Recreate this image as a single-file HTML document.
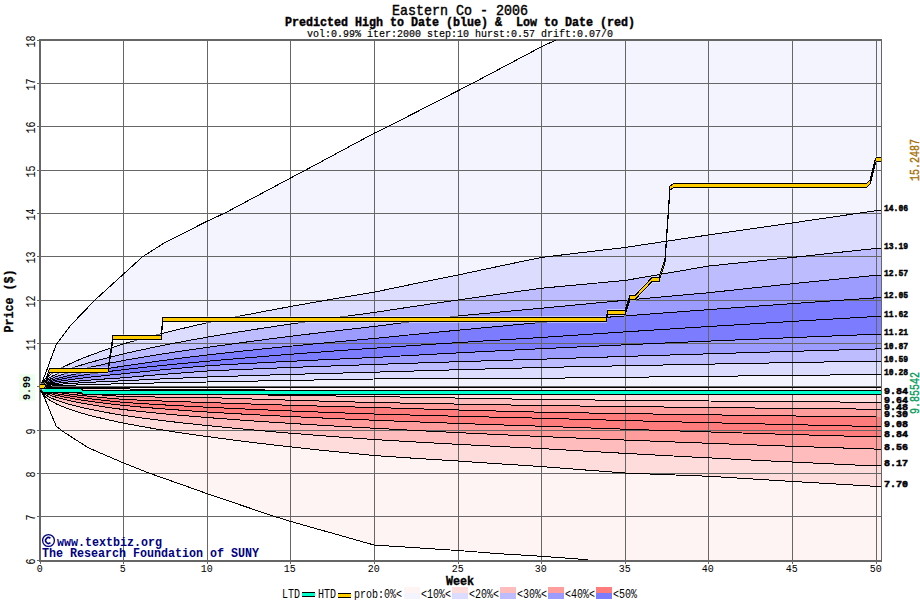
<!DOCTYPE html>
<html><head><meta charset="utf-8"><style>
html,body{margin:0;padding:0;background:#fff;width:920px;height:600px;overflow:hidden}
svg{display:block}
text{font-family:"Liberation Mono",monospace}
</style></head><body>
<svg width="920" height="600" viewBox="0 0 920 600">
<rect width="920" height="600" fill="#fff"/>
<defs><clipPath id="pa"><rect x="40" y="40" width="841" height="520"/></clipPath></defs>
<g clip-path="url(#pa)">
<polygon points="40.00,387.00 881.00,387.00 881.00,374.53 876.00,374.53 859.28,374.71 842.56,374.88 825.84,375.06 809.12,375.23 792.40,375.41 775.68,375.59 758.96,375.77 742.24,375.96 725.52,376.14 708.80,376.33 692.08,376.52 675.36,376.71 658.64,376.90 641.92,377.09 625.20,377.29 608.48,377.48 591.76,377.68 575.04,377.88 558.32,378.09 541.60,378.29 524.88,378.35 508.16,378.41 491.44,378.47 474.72,378.54 458.00,378.61 441.28,378.68 424.56,378.75 407.84,378.83 391.12,378.91 374.40,379.00 357.68,379.27 340.96,379.54 324.24,379.83 307.52,380.11 290.80,380.41 274.08,380.71 257.36,381.02 240.64,381.33 223.92,381.66 207.20,382.00 190.48,382.30 173.76,382.62 157.04,382.95 140.32,383.31 123.60,383.69 106.88,384.10 90.16,384.56 81.80,384.81 73.44,385.09 65.08,385.40 56.72,385.75 52.54,385.96 48.36,386.19 45.02,386.42 43.34,386.56 41.67,386.74 40.84,386.86 40.00,387.10" fill="#f4f4ff"/>
<polygon points="40.00,387.00 881.00,387.00 881.00,393.60 876.00,393.60 859.28,393.52 842.56,393.44 825.84,393.37 809.12,393.29 792.40,393.20 775.68,393.12 758.96,393.04 742.24,392.96 725.52,392.88 708.80,392.79 692.08,392.71 675.36,392.62 658.64,392.53 641.92,392.44 625.20,392.35 608.48,392.26 591.76,392.17 575.04,392.08 558.32,391.98 541.60,391.89 524.88,391.79 508.16,391.69 491.44,391.59 474.72,391.49 458.00,391.39 441.28,391.28 424.56,391.17 407.84,391.07 391.12,390.95 374.40,390.84 357.68,390.72 340.96,390.60 324.24,390.48 307.52,390.35 290.80,390.22 274.08,390.09 257.36,389.95 240.64,389.81 223.92,389.66 207.20,389.50 190.48,389.41 173.76,389.32 157.04,389.21 140.32,389.09 123.60,388.96 106.88,388.80 90.16,388.61 81.80,388.50 73.44,388.37 65.08,388.22 56.72,388.04 52.54,387.93 48.36,387.79 45.02,387.64 43.34,387.55 41.67,387.43 40.84,387.33 40.00,387.10" fill="#fff4f4"/>
<polygon points="40.00,387.10 40.84,386.86 41.67,386.74 43.34,386.56 45.02,386.42 48.36,386.19 52.54,385.96 56.72,385.75 65.08,385.40 73.44,385.09 81.80,384.81 90.16,384.56 106.88,384.10 123.60,383.69 140.32,383.31 157.04,382.95 173.76,382.62 190.48,382.30 207.20,382.00 223.92,381.66 240.64,381.33 257.36,381.02 274.08,380.71 290.80,380.41 307.52,380.11 324.24,379.83 340.96,379.54 357.68,379.27 374.40,379.00 391.12,378.91 407.84,378.83 424.56,378.75 441.28,378.68 458.00,378.61 474.72,378.54 491.44,378.47 508.16,378.41 524.88,378.35 541.60,378.29 558.32,378.09 575.04,377.88 591.76,377.68 608.48,377.48 625.20,377.29 641.92,377.09 658.64,376.90 675.36,376.71 692.08,376.52 708.80,376.33 725.52,376.14 742.24,375.96 758.96,375.77 775.68,375.59 792.40,375.41 809.12,375.23 825.84,375.06 842.56,374.88 859.28,374.71 876.00,374.53 881.00,374.53 881.00,361.10 876.00,361.10 859.28,361.39 842.56,361.68 825.84,361.98 809.12,362.28 792.40,362.58 775.68,362.88 758.96,363.19 742.24,363.50 725.52,363.81 708.80,364.12 692.08,364.44 675.36,364.76 658.64,365.09 641.92,365.42 625.20,365.75 608.48,366.09 591.76,366.43 575.04,366.78 558.32,367.13 541.60,367.49 524.88,367.93 508.16,368.37 491.44,368.83 474.72,369.29 458.00,369.75 441.28,370.22 424.56,370.70 407.84,371.19 391.12,371.68 374.40,372.19 357.68,372.61 340.96,373.05 324.24,373.49 307.52,373.95 290.80,374.41 274.08,374.90 257.36,375.39 240.64,375.91 223.92,376.44 207.20,376.99 190.48,377.68 173.76,378.39 157.04,379.14 140.32,379.93 123.60,380.77 106.88,381.49 90.16,382.31 81.80,382.76 73.44,383.26 65.08,383.82 56.72,384.48 52.54,384.87 48.36,385.32 45.02,385.76 43.34,386.03 41.67,386.38 40.84,386.61 40.00,387.10" fill="#dcdcff"/>
<polygon points="40.00,387.10 40.84,387.33 41.67,387.43 43.34,387.55 45.02,387.64 48.36,387.79 52.54,387.93 56.72,388.04 65.08,388.22 73.44,388.37 81.80,388.50 90.16,388.61 106.88,388.80 123.60,388.96 140.32,389.09 157.04,389.21 173.76,389.32 190.48,389.41 207.20,389.50 223.92,389.66 240.64,389.81 257.36,389.95 274.08,390.09 290.80,390.22 307.52,390.35 324.24,390.48 340.96,390.60 357.68,390.72 374.40,390.84 391.12,390.95 407.84,391.07 424.56,391.17 441.28,391.28 458.00,391.39 474.72,391.49 491.44,391.59 508.16,391.69 524.88,391.79 541.60,391.89 558.32,391.98 575.04,392.08 591.76,392.17 608.48,392.26 625.20,392.35 641.92,392.44 658.64,392.53 675.36,392.62 692.08,392.71 708.80,392.79 725.52,392.88 742.24,392.96 758.96,393.04 775.68,393.12 792.40,393.20 809.12,393.29 825.84,393.37 842.56,393.44 859.28,393.52 876.00,393.60 881.00,393.60 881.00,402.27 876.00,402.27 859.28,402.15 842.56,402.03 825.84,401.90 809.12,401.78 792.40,401.65 775.68,401.53 758.96,401.40 742.24,401.27 725.52,401.13 708.80,401.00 692.08,400.86 675.36,400.72 658.64,400.58 641.92,400.43 625.20,400.28 608.48,400.13 591.76,399.98 575.04,399.83 558.32,399.67 541.60,399.51 524.88,399.23 508.16,398.94 491.44,398.65 474.72,398.36 458.00,398.06 441.28,397.76 424.56,397.46 407.84,397.15 391.12,396.83 374.40,396.51 357.68,396.29 340.96,396.07 324.24,395.84 307.52,395.60 290.80,395.36 274.08,395.10 257.36,394.83 240.64,394.56 223.92,394.27 207.20,393.96 190.48,393.63 173.76,393.29 157.04,392.92 140.32,392.52 123.60,392.08 106.88,391.58 90.16,391.02 81.80,390.70 73.44,390.34 65.08,389.93 56.72,389.43 52.54,389.14 48.36,388.78 45.02,388.42 43.34,388.18 41.67,387.88 40.84,387.66 40.00,387.10" fill="#ffdcdc"/>
<polygon points="40.00,387.10 40.84,386.61 41.67,386.38 43.34,386.03 45.02,385.76 48.36,385.32 52.54,384.87 56.72,384.48 65.08,383.82 73.44,383.26 81.80,382.76 90.16,382.31 106.88,381.49 123.60,380.77 140.32,379.93 157.04,379.14 173.76,378.39 190.48,377.68 207.20,376.99 223.92,376.44 240.64,375.91 257.36,375.39 274.08,374.90 290.80,374.41 307.52,373.95 324.24,373.49 340.96,373.05 357.68,372.61 374.40,372.19 391.12,371.68 407.84,371.19 424.56,370.70 441.28,370.22 458.00,369.75 474.72,369.29 491.44,368.83 508.16,368.37 524.88,367.93 541.60,367.49 558.32,367.13 575.04,366.78 591.76,366.43 608.48,366.09 625.20,365.75 641.92,365.42 658.64,365.09 675.36,364.76 692.08,364.44 708.80,364.12 725.52,363.81 742.24,363.50 758.96,363.19 775.68,362.88 792.40,362.58 809.12,362.28 825.84,361.98 842.56,361.68 859.28,361.39 876.00,361.10 881.00,361.10 881.00,348.97 876.00,348.97 859.28,349.44 842.56,349.91 825.84,350.38 809.12,350.86 792.40,351.35 775.68,351.83 758.96,352.33 742.24,352.82 725.52,353.32 708.80,353.83 692.08,354.34 675.36,354.85 658.64,355.37 641.92,355.90 625.20,356.43 608.48,356.97 591.76,357.51 575.04,358.06 558.32,358.62 541.60,359.18 524.88,359.67 508.16,360.17 491.44,360.68 474.72,361.19 458.00,361.71 441.28,362.25 424.56,362.79 407.84,363.34 391.12,363.91 374.40,364.49 357.68,365.06 340.96,365.64 324.24,366.24 307.52,366.85 290.80,367.48 274.08,368.14 257.36,368.81 240.64,369.51 223.92,370.23 207.20,370.99 190.48,372.24 173.76,373.53 157.04,374.87 140.32,376.27 123.60,377.75 106.88,378.84 90.16,380.05 81.80,380.73 73.44,381.47 65.08,382.30 56.72,383.27 52.54,383.84 48.36,384.51 45.02,385.15 43.34,385.55 41.67,386.05 40.84,386.39 40.00,387.10" fill="#bcbcff"/>
<polygon points="40.00,387.10 40.84,387.66 41.67,387.88 43.34,388.18 45.02,388.42 48.36,388.78 52.54,389.14 56.72,389.43 65.08,389.93 73.44,390.34 81.80,390.70 90.16,391.02 106.88,391.58 123.60,392.08 140.32,392.52 157.04,392.92 173.76,393.29 190.48,393.63 207.20,393.96 223.92,394.27 240.64,394.56 257.36,394.83 274.08,395.10 290.80,395.36 307.52,395.60 324.24,395.84 340.96,396.07 357.68,396.29 374.40,396.51 391.12,396.83 407.84,397.15 424.56,397.46 441.28,397.76 458.00,398.06 474.72,398.36 491.44,398.65 508.16,398.94 524.88,399.23 541.60,399.51 558.32,399.67 575.04,399.83 591.76,399.98 608.48,400.13 625.20,400.28 641.92,400.43 658.64,400.58 675.36,400.72 692.08,400.86 708.80,401.00 725.52,401.13 742.24,401.27 758.96,401.40 775.68,401.53 792.40,401.65 809.12,401.78 825.84,401.90 842.56,402.03 859.28,402.15 876.00,402.27 881.00,402.27 881.00,409.20 876.00,409.20 859.28,409.04 842.56,408.88 825.84,408.72 809.12,408.56 792.40,408.39 775.68,408.22 758.96,408.05 742.24,407.87 725.52,407.70 708.80,407.52 692.08,407.33 675.36,407.14 658.64,406.95 641.92,406.76 625.20,406.56 608.48,406.36 591.76,406.15 575.04,405.94 558.32,405.73 541.60,405.51 524.88,405.24 508.16,404.96 491.44,404.68 474.72,404.39 458.00,404.09 441.28,403.79 424.56,403.48 407.84,403.16 391.12,402.84 374.40,402.51 357.68,402.07 340.96,401.62 324.24,401.15 307.52,400.68 290.80,400.19 274.08,399.69 257.36,399.17 240.64,398.64 223.92,398.08 207.20,397.51 190.48,397.38 173.76,397.23 157.04,397.04 140.32,396.80 123.60,396.51 106.88,395.39 90.16,394.13 81.80,393.45 73.44,392.71 65.08,391.89 56.72,390.95 52.54,390.41 48.36,389.78 45.02,389.16 43.34,388.78 41.67,388.29 40.84,387.94 40.00,387.10" fill="#ffbcbc"/>
<polygon points="40.00,387.10 40.84,386.39 41.67,386.05 43.34,385.55 45.02,385.15 48.36,384.51 52.54,383.84 56.72,383.27 65.08,382.30 73.44,381.47 81.80,380.73 90.16,380.05 106.88,378.84 123.60,377.75 140.32,376.27 157.04,374.87 173.76,373.53 190.48,372.24 207.20,370.99 223.92,370.23 240.64,369.51 257.36,368.81 274.08,368.14 290.80,367.48 307.52,366.85 324.24,366.24 340.96,365.64 357.68,365.06 374.40,364.49 391.12,363.91 407.84,363.34 424.56,362.79 441.28,362.25 458.00,361.71 474.72,361.19 491.44,360.68 508.16,360.17 524.88,359.67 541.60,359.18 558.32,358.62 575.04,358.06 591.76,357.51 608.48,356.97 625.20,356.43 641.92,355.90 658.64,355.37 675.36,354.85 692.08,354.34 708.80,353.83 725.52,353.32 742.24,352.82 758.96,352.33 775.68,351.83 792.40,351.35 809.12,350.86 825.84,350.38 842.56,349.91 859.28,349.44 876.00,348.97 881.00,348.97 881.00,334.23 876.00,334.23 859.28,334.90 842.56,335.57 825.84,336.24 809.12,336.92 792.40,337.61 775.68,338.30 758.96,339.00 742.24,339.70 725.52,340.41 708.80,341.12 692.08,341.84 675.36,342.57 658.64,343.31 641.92,344.05 625.20,344.80 608.48,345.56 591.76,346.32 575.04,347.10 558.32,347.88 541.60,348.67 524.88,349.50 508.16,350.33 491.44,351.18 474.72,352.04 458.00,352.91 441.28,353.80 424.56,354.69 407.84,355.61 391.12,356.53 374.40,357.48 357.68,358.20 340.96,358.94 324.24,359.70 307.52,360.48 290.80,361.29 274.08,362.12 257.36,362.99 240.64,363.88 223.92,364.81 207.20,365.79 190.48,367.24 173.76,368.75 157.04,370.32 140.32,371.98 123.60,373.73 106.88,375.34 90.16,377.12 81.80,378.10 73.44,379.18 65.08,380.37 56.72,381.76 52.54,382.56 48.36,383.50 45.02,384.41 43.34,384.96 41.67,385.66 40.84,386.13 40.00,387.10" fill="#9c9cff"/>
<polygon points="40.00,387.10 40.84,387.94 41.67,388.29 43.34,388.78 45.02,389.16 48.36,389.78 52.54,390.41 56.72,390.95 65.08,391.89 73.44,392.71 81.80,393.45 90.16,394.13 106.88,395.39 123.60,396.51 140.32,396.80 157.04,397.04 173.76,397.23 190.48,397.38 207.20,397.51 223.92,398.08 240.64,398.64 257.36,399.17 274.08,399.69 290.80,400.19 307.52,400.68 324.24,401.15 340.96,401.62 357.68,402.07 374.40,402.51 391.12,402.84 407.84,403.16 424.56,403.48 441.28,403.79 458.00,404.09 474.72,404.39 491.44,404.68 508.16,404.96 524.88,405.24 541.60,405.51 558.32,405.73 575.04,405.94 591.76,406.15 608.48,406.36 625.20,406.56 641.92,406.76 658.64,406.95 675.36,407.14 692.08,407.33 708.80,407.52 725.52,407.70 742.24,407.87 758.96,408.05 775.68,408.22 792.40,408.39 809.12,408.56 825.84,408.72 842.56,408.88 859.28,409.04 876.00,409.20 881.00,409.20 881.00,417.00 876.00,417.00 859.28,416.80 842.56,416.59 825.84,416.38 809.12,416.17 792.40,415.96 775.68,415.74 758.96,415.52 742.24,415.29 725.52,415.06 708.80,414.83 692.08,414.59 675.36,414.34 658.64,414.10 641.92,413.84 625.20,413.58 608.48,413.32 591.76,413.05 575.04,412.78 558.32,412.50 541.60,412.21 524.88,411.78 508.16,411.34 491.44,410.89 474.72,410.44 458.00,409.98 441.28,409.50 424.56,409.02 407.84,408.53 391.12,408.03 374.40,407.51 357.68,407.09 340.96,406.65 324.24,406.21 307.52,405.74 290.80,405.26 274.08,404.76 257.36,404.23 240.64,403.69 223.92,403.11 207.20,402.51 190.48,401.99 173.76,401.44 157.04,400.84 140.32,400.17 123.60,399.43 106.88,397.99 90.16,396.38 81.80,395.50 73.44,394.54 65.08,393.48 56.72,392.25 52.54,391.54 48.36,390.70 45.02,389.88 43.34,389.37 41.67,388.71 40.84,388.25 40.00,387.10" fill="#ff9c9c"/>
<polygon points="40.00,387.10 40.84,386.13 41.67,385.66 43.34,384.96 45.02,384.41 48.36,383.50 52.54,382.56 56.72,381.76 65.08,380.37 73.44,379.18 81.80,378.10 90.16,377.12 106.88,375.34 123.60,373.73 140.32,371.98 157.04,370.32 173.76,368.75 190.48,367.24 207.20,365.79 223.92,364.81 240.64,363.88 257.36,362.99 274.08,362.12 290.80,361.29 307.52,360.48 324.24,359.70 340.96,358.94 357.68,358.20 374.40,357.48 391.12,356.53 407.84,355.61 424.56,354.69 441.28,353.80 458.00,352.91 474.72,352.04 491.44,351.18 508.16,350.33 524.88,349.50 541.60,348.67 558.32,347.88 575.04,347.10 591.76,346.32 608.48,345.56 625.20,344.80 641.92,344.05 658.64,343.31 675.36,342.57 692.08,341.84 708.80,341.12 725.52,340.41 742.24,339.70 758.96,339.00 775.68,338.30 792.40,337.61 809.12,336.92 825.84,336.24 842.56,335.57 859.28,334.90 876.00,334.23 881.00,334.23 881.00,316.47 876.00,316.47 859.28,317.44 842.56,318.43 825.84,319.42 809.12,320.41 792.40,321.42 775.68,322.43 758.96,323.44 742.24,324.47 725.52,325.50 708.80,326.54 692.08,327.59 675.36,328.65 658.64,329.71 641.92,330.79 625.20,331.87 608.48,332.97 591.76,334.07 575.04,335.19 558.32,336.32 541.60,337.46 524.88,338.47 508.16,339.48 491.44,340.51 474.72,341.55 458.00,342.61 441.28,343.68 424.56,344.78 407.84,345.89 391.12,347.02 374.40,348.17 357.68,349.34 340.96,350.53 324.24,351.75 307.52,353.00 290.80,354.28 274.08,355.59 257.36,356.94 240.64,358.34 223.92,359.78 207.20,361.28 190.48,362.77 173.76,364.34 157.04,365.99 140.32,367.74 123.60,369.63 106.88,371.71 90.16,374.04 81.80,375.32 73.44,376.73 65.08,378.29 56.72,380.11 52.54,381.16 48.36,382.38 45.02,383.57 43.34,384.30 41.67,385.21 40.84,385.83 40.00,387.10" fill="#7c7cff"/>
<polygon points="40.00,387.10 40.84,388.25 41.67,388.71 43.34,389.37 45.02,389.88 48.36,390.70 52.54,391.54 56.72,392.25 65.08,393.48 73.44,394.54 81.80,395.50 90.16,396.38 106.88,397.99 123.60,399.43 140.32,400.17 157.04,400.84 173.76,401.44 190.48,401.99 207.20,402.51 223.92,403.11 240.64,403.69 257.36,404.23 274.08,404.76 290.80,405.26 307.52,405.74 324.24,406.21 340.96,406.65 357.68,407.09 374.40,407.51 391.12,408.03 407.84,408.53 424.56,409.02 441.28,409.50 458.00,409.98 474.72,410.44 491.44,410.89 508.16,411.34 524.88,411.78 541.60,412.21 558.32,412.50 575.04,412.78 591.76,413.05 608.48,413.32 625.20,413.58 641.92,413.84 658.64,414.10 675.36,414.34 692.08,414.59 708.80,414.83 725.52,415.06 742.24,415.29 758.96,415.52 775.68,415.74 792.40,415.96 809.12,416.17 825.84,416.38 842.56,416.59 859.28,416.80 876.00,417.00 881.00,417.00 881.00,426.53 876.00,426.53 859.28,426.17 842.56,425.80 825.84,425.42 809.12,425.04 792.40,424.66 775.68,424.27 758.96,423.88 742.24,423.48 725.52,423.08 708.80,422.67 692.08,422.25 675.36,421.83 658.64,421.41 641.92,420.97 625.20,420.53 608.48,420.08 591.76,419.63 575.04,419.17 558.32,418.70 541.60,418.22 524.88,417.84 508.16,417.46 491.44,417.07 474.72,416.67 458.00,416.26 441.28,415.84 424.56,415.40 407.84,414.95 391.12,414.49 374.40,414.01 357.68,413.44 340.96,412.85 324.24,412.23 307.52,411.60 290.80,410.94 274.08,410.26 257.36,409.55 240.64,408.81 223.92,408.03 207.20,407.21 190.48,406.38 173.76,405.48 157.04,404.53 140.32,403.49 123.60,402.34 106.88,400.65 90.16,398.75 81.80,397.70 73.44,396.54 65.08,395.25 56.72,393.73 52.54,392.84 48.36,391.79 45.02,390.74 43.34,390.08 41.67,389.22 40.84,388.62 40.00,387.10" fill="#ff7c7c"/>
<polygon points="40.00,387.10 40.84,385.83 41.67,385.21 43.34,384.30 45.02,383.57 48.36,382.38 52.54,381.16 56.72,380.11 65.08,378.29 73.44,376.73 81.80,375.32 90.16,374.04 106.88,371.71 123.60,369.63 140.32,367.74 157.04,365.99 173.76,364.34 190.48,362.77 207.20,361.28 223.92,359.78 240.64,358.34 257.36,356.94 274.08,355.59 290.80,354.28 307.52,353.00 324.24,351.75 340.96,350.53 357.68,349.34 374.40,348.17 391.12,347.02 407.84,345.89 424.56,344.78 441.28,343.68 458.00,342.61 474.72,341.55 491.44,340.51 508.16,339.48 524.88,338.47 541.60,337.46 558.32,336.32 575.04,335.19 591.76,334.07 608.48,332.97 625.20,331.87 641.92,330.79 658.64,329.71 675.36,328.65 692.08,327.59 708.80,326.54 725.52,325.50 742.24,324.47 758.96,323.44 775.68,322.43 792.40,321.42 809.12,320.41 825.84,319.42 842.56,318.43 859.28,317.44 876.00,316.47 881.00,316.47 881.00,297.83 876.00,297.83 859.28,298.98 842.56,300.13 825.84,301.28 809.12,302.45 792.40,303.62 775.68,304.81 758.96,306.00 742.24,307.20 725.52,308.41 708.80,309.63 692.08,310.86 675.36,312.10 658.64,313.35 641.92,314.61 625.20,315.88 608.48,317.17 591.76,318.47 575.04,319.78 558.32,321.11 541.60,322.45 524.88,323.96 508.16,325.49 491.44,327.04 474.72,328.61 458.00,330.20 441.28,331.80 424.56,333.43 407.84,335.08 391.12,336.76 374.40,338.46 357.68,339.94 340.96,341.44 324.24,342.98 307.52,344.56 290.80,346.17 274.08,347.82 257.36,349.53 240.64,351.28 223.92,353.10 207.20,354.98 190.48,356.98 173.76,359.08 157.04,361.28 140.32,363.61 123.60,366.11 106.88,368.57 90.16,371.31 81.80,372.84 73.44,374.52 65.08,376.39 56.72,378.57 52.54,379.84 48.36,381.32 45.02,382.77 43.34,383.65 41.67,384.77 40.84,385.53 40.00,387.10" fill="#7c7cff"/>
<polygon points="40.00,387.10 40.84,388.62 41.67,389.22 43.34,390.08 45.02,390.74 48.36,391.79 52.54,392.84 56.72,393.73 65.08,395.25 73.44,396.54 81.80,397.70 90.16,398.75 106.88,400.65 123.60,402.34 140.32,403.49 157.04,404.53 173.76,405.48 190.48,406.38 207.20,407.21 223.92,408.03 240.64,408.81 257.36,409.55 274.08,410.26 290.80,410.94 307.52,411.60 324.24,412.23 340.96,412.85 357.68,413.44 374.40,414.01 391.12,414.49 407.84,414.95 424.56,415.40 441.28,415.84 458.00,416.26 474.72,416.67 491.44,417.07 508.16,417.46 524.88,417.84 541.60,418.22 558.32,418.70 575.04,419.17 591.76,419.63 608.48,420.08 625.20,420.53 641.92,420.97 658.64,421.41 675.36,421.83 692.08,422.25 708.80,422.67 725.52,423.08 742.24,423.48 758.96,423.88 775.68,424.27 792.40,424.66 809.12,425.04 825.84,425.42 842.56,425.80 859.28,426.17 876.00,426.53 881.00,426.53 881.00,436.93 876.00,436.93 859.28,436.46 842.56,435.98 825.84,435.50 809.12,435.01 792.40,434.52 775.68,434.02 758.96,433.51 742.24,433.00 725.52,432.48 708.80,431.95 692.08,431.42 675.36,430.87 658.64,430.32 641.92,429.77 625.20,429.20 608.48,428.62 591.76,428.04 575.04,427.44 558.32,426.84 541.60,426.22 524.88,425.68 508.16,425.13 491.44,424.57 474.72,424.00 458.00,423.41 441.28,422.80 424.56,422.18 407.84,421.55 391.12,420.89 374.40,420.22 357.68,419.53 340.96,418.82 324.24,418.09 307.52,417.33 290.80,416.54 274.08,415.72 257.36,414.86 240.64,413.96 223.92,413.01 207.20,412.01 190.48,410.88 173.76,409.67 157.04,408.38 140.32,406.99 123.60,405.46 106.88,403.52 90.16,401.32 81.80,400.08 73.44,398.72 65.08,397.18 56.72,395.36 52.54,394.27 48.36,392.98 45.02,391.69 43.34,390.87 41.67,389.80 40.84,389.03 40.00,387.10" fill="#ff7c7c"/>
<polygon points="40.00,387.10 40.84,385.53 41.67,384.77 43.34,383.65 45.02,382.77 48.36,381.32 52.54,379.84 56.72,378.57 65.08,376.39 73.44,374.52 81.80,372.84 90.16,371.31 106.88,368.57 123.60,366.11 140.32,363.61 157.04,361.28 173.76,359.08 190.48,356.98 207.20,354.98 223.92,353.10 240.64,351.28 257.36,349.53 274.08,347.82 290.80,346.17 307.52,344.56 324.24,342.98 340.96,341.44 357.68,339.94 374.40,338.46 391.12,336.76 407.84,335.08 424.56,333.43 441.28,331.80 458.00,330.20 474.72,328.61 491.44,327.04 508.16,325.49 524.88,323.96 541.60,322.45 558.32,321.11 575.04,319.78 591.76,318.47 608.48,317.17 625.20,315.88 641.92,314.61 658.64,313.35 675.36,312.10 692.08,310.86 708.80,309.63 725.52,308.41 742.24,307.20 758.96,306.00 775.68,304.81 792.40,303.62 809.12,302.45 825.84,301.28 842.56,300.13 859.28,298.98 876.00,297.83 881.00,297.83 881.00,275.30 876.00,275.30 859.28,276.96 842.56,278.64 825.84,280.32 809.12,282.01 792.40,283.71 775.68,285.49 758.96,287.28 742.24,289.08 725.52,290.90 708.80,292.72 692.08,294.21 675.36,295.71 658.64,297.22 641.92,298.75 625.20,300.29 608.48,301.85 591.76,303.42 575.04,305.01 558.32,306.62 541.60,308.24 524.88,309.76 508.16,311.28 491.44,312.83 474.72,314.41 458.00,316.00 441.28,318.03 424.56,320.09 407.84,322.18 391.12,324.30 374.40,326.45 357.68,328.34 340.96,330.27 324.24,332.23 307.52,334.24 290.80,336.29 274.08,338.40 257.36,340.56 240.64,342.79 223.92,345.09 207.20,347.47 190.48,349.81 173.76,352.25 157.04,354.83 140.32,357.56 123.60,360.49 106.88,363.68 90.16,367.23 81.80,369.19 73.44,371.33 65.08,373.71 56.72,376.47 52.54,378.08 48.36,379.94 45.02,381.74 43.34,382.85 41.67,384.23 40.84,385.17 40.00,387.10" fill="#9c9cff"/>
<polygon points="40.00,387.10 40.84,389.03 41.67,389.80 43.34,390.87 45.02,391.69 48.36,392.98 52.54,394.27 56.72,395.36 65.08,397.18 73.44,398.72 81.80,400.08 90.16,401.32 106.88,403.52 123.60,405.46 140.32,406.99 157.04,408.38 173.76,409.67 190.48,410.88 207.20,412.01 223.92,413.01 240.64,413.96 257.36,414.86 274.08,415.72 290.80,416.54 307.52,417.33 324.24,418.09 340.96,418.82 357.68,419.53 374.40,420.22 391.12,420.89 407.84,421.55 424.56,422.18 441.28,422.80 458.00,423.41 474.72,424.00 491.44,424.57 508.16,425.13 524.88,425.68 541.60,426.22 558.32,426.84 575.04,427.44 591.76,428.04 608.48,428.62 625.20,429.20 641.92,429.77 658.64,430.32 675.36,430.87 692.08,431.42 708.80,431.95 725.52,432.48 742.24,433.00 758.96,433.51 775.68,434.02 792.40,434.52 809.12,435.01 825.84,435.50 842.56,435.98 859.28,436.46 876.00,436.93 881.00,436.93 881.00,449.07 876.00,449.07 859.28,448.52 842.56,447.97 825.84,447.41 809.12,446.84 792.40,446.26 775.68,445.68 758.96,445.09 742.24,444.49 725.52,443.88 708.80,443.27 692.08,442.64 675.36,442.01 658.64,441.36 641.92,440.70 625.20,440.04 608.48,439.36 591.76,438.67 575.04,437.97 558.32,437.25 541.60,436.53 524.88,435.78 508.16,435.01 491.44,434.23 474.72,433.43 458.00,432.61 441.28,431.78 424.56,430.92 407.84,430.05 391.12,429.15 374.40,428.22 357.68,427.32 340.96,426.39 324.24,425.43 307.52,424.44 290.80,423.40 274.08,422.33 257.36,421.21 240.64,420.04 223.92,418.81 207.20,417.52 190.48,416.15 173.76,414.69 157.04,413.13 140.32,411.44 123.60,409.57 106.88,407.26 90.16,404.62 81.80,403.14 73.44,401.49 65.08,399.62 56.72,397.39 52.54,396.05 48.36,394.46 45.02,392.85 43.34,391.83 41.67,390.49 40.84,389.53 40.00,387.10" fill="#ff9c9c"/>
<polygon points="40.00,387.10 40.84,385.17 41.67,384.23 43.34,382.85 45.02,381.74 48.36,379.94 52.54,378.08 56.72,376.47 65.08,373.71 73.44,371.33 81.80,369.19 90.16,367.23 106.88,363.68 123.60,360.49 140.32,357.56 157.04,354.83 173.76,352.25 190.48,349.81 207.20,347.47 223.92,345.09 240.64,342.79 257.36,340.56 274.08,338.40 290.80,336.29 307.52,334.24 324.24,332.23 340.96,330.27 357.68,328.34 374.40,326.45 391.12,324.30 407.84,322.18 424.56,320.09 441.28,318.03 458.00,316.00 474.72,314.41 491.44,312.83 508.16,311.28 524.88,309.76 541.60,308.24 558.32,306.62 575.04,305.01 591.76,303.42 608.48,301.85 625.20,300.29 641.92,298.75 658.64,297.22 675.36,295.71 692.08,294.21 708.80,292.72 725.52,290.90 742.24,289.08 758.96,287.28 775.68,285.49 792.40,283.71 809.12,282.01 825.84,280.32 842.56,278.64 859.28,276.96 876.00,275.30 881.00,275.30 881.00,248.43 876.00,248.43 859.28,250.22 842.56,252.01 825.84,253.81 809.12,255.63 792.40,257.46 775.68,259.15 758.96,260.85 742.24,262.56 725.52,264.28 708.80,266.03 692.08,268.89 675.36,271.76 658.64,274.65 641.92,277.55 625.20,280.46 608.48,282.00 591.76,283.53 575.04,285.08 558.32,286.65 541.60,288.24 524.88,290.53 508.16,292.86 491.44,295.21 474.72,297.59 458.00,300.00 441.28,302.42 424.56,304.87 407.84,307.36 391.12,309.88 374.40,312.44 357.68,314.66 340.96,316.92 324.24,319.23 307.52,321.59 290.80,324.01 274.08,326.48 257.36,329.03 240.64,331.65 223.92,334.36 207.20,337.17 190.48,340.18 173.76,343.33 157.04,346.63 140.32,350.13 123.60,353.86 106.88,357.93 90.16,362.44 81.80,364.92 73.44,367.61 65.08,370.60 56.72,374.04 52.54,376.04 48.36,378.33 45.02,380.56 43.34,381.91 41.67,383.61 40.84,384.75 40.00,387.10" fill="#bcbcff"/>
<polygon points="40.00,387.10 40.84,389.53 41.67,390.49 43.34,391.83 45.02,392.85 48.36,394.46 52.54,396.05 56.72,397.39 65.08,399.62 73.44,401.49 81.80,403.14 90.16,404.62 106.88,407.26 123.60,409.57 140.32,411.44 157.04,413.13 173.76,414.69 190.48,416.15 207.20,417.52 223.92,418.81 240.64,420.04 257.36,421.21 274.08,422.33 290.80,423.40 307.52,424.44 324.24,425.43 340.96,426.39 357.68,427.32 374.40,428.22 391.12,429.15 407.84,430.05 424.56,430.92 441.28,431.78 458.00,432.61 474.72,433.43 491.44,434.23 508.16,435.01 524.88,435.78 541.60,436.53 558.32,437.25 575.04,437.97 591.76,438.67 608.48,439.36 625.20,440.04 641.92,440.70 658.64,441.36 675.36,442.01 692.08,442.64 708.80,443.27 725.52,443.88 742.24,444.49 758.96,445.09 775.68,445.68 792.40,446.26 809.12,446.84 825.84,447.41 842.56,447.97 859.28,448.52 876.00,449.07 881.00,449.07 881.00,465.97 876.00,465.97 859.28,465.20 842.56,464.42 825.84,463.64 809.12,462.84 792.40,462.04 775.68,461.22 758.96,460.40 742.24,459.56 725.52,458.72 708.80,457.86 692.08,456.99 675.36,456.11 658.64,455.21 641.92,454.30 625.20,453.38 608.48,452.44 591.76,451.49 575.04,450.52 558.32,449.54 541.60,448.54 524.88,447.73 508.16,446.91 491.44,446.08 474.72,445.22 458.00,444.34 441.28,443.43 424.56,442.50 407.84,441.54 391.12,440.55 374.40,439.52 357.68,438.35 340.96,437.13 324.24,435.87 307.52,434.57 290.80,433.22 274.08,431.81 257.36,430.35 240.64,428.82 223.92,427.21 207.20,425.52 190.48,423.78 173.76,421.93 157.04,419.94 140.32,417.77 123.60,415.39 106.88,412.57 90.16,409.33 81.80,407.49 73.44,405.44 65.08,403.10 56.72,400.29 52.54,398.60 48.36,396.58 45.02,394.53 43.34,393.22 41.67,391.49 40.84,390.25 40.00,387.10" fill="#ffbcbc"/>
<polygon points="40.00,387.10 40.84,384.75 41.67,383.61 43.34,381.91 45.02,380.56 48.36,378.33 52.54,376.04 56.72,374.04 65.08,370.60 73.44,367.61 81.80,364.92 90.16,362.44 106.88,357.93 123.60,353.86 140.32,350.13 157.04,346.63 173.76,343.33 190.48,340.18 207.20,337.17 223.92,334.36 240.64,331.65 257.36,329.03 274.08,326.48 290.80,324.01 307.52,321.59 324.24,319.23 340.96,316.92 357.68,314.66 374.40,312.44 391.12,309.88 407.84,307.36 424.56,304.87 441.28,302.42 458.00,300.00 474.72,297.59 491.44,295.21 508.16,292.86 524.88,290.53 541.60,288.24 558.32,286.65 575.04,285.08 591.76,283.53 608.48,282.00 625.20,280.46 641.92,277.55 658.64,274.65 675.36,271.76 692.08,268.89 708.80,266.03 725.52,264.28 742.24,262.56 758.96,260.85 775.68,259.15 792.40,257.46 809.12,255.63 825.84,253.81 842.56,252.01 859.28,250.22 876.00,248.43 881.00,248.43 881.00,210.73 876.00,210.73 859.28,213.15 842.56,215.58 825.84,218.02 809.12,220.47 792.40,222.94 775.68,225.31 758.96,227.69 742.24,230.09 725.52,232.50 708.80,234.93 692.08,237.40 675.36,239.89 658.64,242.40 641.92,244.92 625.20,247.47 608.48,249.42 591.76,251.39 575.04,253.38 558.32,255.39 541.60,257.43 524.88,260.84 508.16,264.34 491.44,267.86 474.72,271.41 458.00,275.00 441.28,278.35 424.56,281.73 407.84,285.15 391.12,288.61 374.40,292.12 357.68,294.89 340.96,297.70 324.24,300.56 307.52,303.49 290.80,306.48 274.08,309.55 257.36,312.70 240.64,315.94 223.92,319.29 207.20,322.76 190.48,326.58 173.76,330.56 157.04,334.73 140.32,339.13 123.60,343.83 106.88,349.31 90.16,355.34 81.80,358.64 73.44,362.19 65.08,366.11 56.72,370.58 52.54,373.15 48.36,376.09 45.02,378.92 43.34,380.63 41.67,382.76 40.84,384.19 40.00,387.10" fill="#dcdcff"/>
<polygon points="40.00,387.10 40.84,390.25 41.67,391.49 43.34,393.22 45.02,394.53 48.36,396.58 52.54,398.60 56.72,400.29 65.08,403.10 73.44,405.44 81.80,407.49 90.16,409.33 106.88,412.57 123.60,415.39 140.32,417.77 157.04,419.94 173.76,421.93 190.48,423.78 207.20,425.52 223.92,427.21 240.64,428.82 257.36,430.35 274.08,431.81 290.80,433.22 307.52,434.57 324.24,435.87 340.96,437.13 357.68,438.35 374.40,439.52 391.12,440.55 407.84,441.54 424.56,442.50 441.28,443.43 458.00,444.34 474.72,445.22 491.44,446.08 508.16,446.91 524.88,447.73 541.60,448.54 558.32,449.54 575.04,450.52 591.76,451.49 608.48,452.44 625.20,453.38 641.92,454.30 658.64,455.21 675.36,456.11 692.08,456.99 708.80,457.86 725.52,458.72 742.24,459.56 758.96,460.40 775.68,461.22 792.40,462.04 809.12,462.84 825.84,463.64 842.56,464.42 859.28,465.20 876.00,465.97 881.00,465.97 881.00,486.33 876.00,486.33 859.28,485.38 842.56,484.41 825.84,483.43 809.12,482.45 792.40,481.44 775.68,480.43 758.96,479.40 742.24,478.36 725.52,477.31 708.80,476.24 692.08,475.63 675.36,475.00 658.64,474.35 641.92,473.69 625.20,473.01 608.48,471.76 591.76,470.49 575.04,469.20 558.32,467.88 541.60,466.55 524.88,465.48 508.16,464.40 491.44,463.30 474.72,462.16 458.00,461.00 441.28,459.98 424.56,458.92 407.84,457.83 391.12,456.70 374.40,455.53 357.68,453.91 340.96,452.24 324.24,450.52 307.52,448.73 290.80,446.89 274.08,444.98 257.36,443.00 240.64,440.95 223.92,438.79 207.20,436.53 190.48,434.22 173.76,431.76 157.04,429.12 140.32,426.26 123.60,423.12 106.88,419.57 90.16,415.50 81.80,413.18 73.44,410.59 65.08,407.62 56.72,404.05 52.54,401.90 48.36,399.31 45.02,396.68 43.34,395.00 41.67,392.78 40.84,391.18 40.00,387.10" fill="#ffdcdc"/>
<polygon points="40.00,387.10 40.84,384.19 41.67,382.76 43.34,380.63 45.02,378.92 48.36,376.09 52.54,373.15 56.72,370.58 65.08,366.11 73.44,362.19 81.80,358.64 90.16,355.34 106.88,349.31 123.60,343.83 140.32,339.13 157.04,334.73 173.76,330.56 190.48,326.58 207.20,322.76 223.92,319.29 240.64,315.94 257.36,312.70 274.08,309.55 290.80,306.48 307.52,303.49 324.24,300.56 340.96,297.70 357.68,294.89 374.40,292.12 391.12,288.61 407.84,285.15 424.56,281.73 441.28,278.35 458.00,275.00 474.72,271.41 491.44,267.86 508.16,264.34 524.88,260.84 541.60,257.43 558.32,255.39 575.04,253.38 591.76,251.39 608.48,249.42 625.20,247.47 641.92,244.92 658.64,242.40 675.36,239.89 692.08,237.40 708.80,234.93 725.52,232.50 742.24,230.09 758.96,227.69 775.68,225.31 792.40,222.94 809.12,220.47 825.84,218.02 842.56,215.58 859.28,213.15 876.00,210.73 881.00,210.73 881.00,-113.00 556.00,40.00 541.00,47.00 473.00,83.00 440.00,100.00 389.00,126.00 374.00,133.30 305.80,170.00 290.00,178.30 225.00,213.00 207.50,221.00 165.00,242.50 142.50,256.75 95.00,300.00 71.00,325.00 56.00,345.00 45.00,375.00 40.00,387.00" fill="#f4f4ff"/>
<polygon points="40.00,387.10 40.84,391.18 41.67,392.78 43.34,395.00 45.02,396.68 48.36,399.31 52.54,401.90 56.72,404.05 65.08,407.62 73.44,410.59 81.80,413.18 90.16,415.50 106.88,419.57 123.60,423.12 140.32,426.26 157.04,429.12 173.76,431.76 190.48,434.22 207.20,436.53 223.92,438.79 240.64,440.95 257.36,443.00 274.08,444.98 290.80,446.89 307.52,448.73 324.24,450.52 340.96,452.24 357.68,453.91 374.40,455.53 391.12,456.70 407.84,457.83 424.56,458.92 441.28,459.98 458.00,461.00 474.72,462.16 491.44,463.30 508.16,464.40 524.88,465.48 541.60,466.55 558.32,467.88 575.04,469.20 591.76,470.49 608.48,471.76 625.20,473.01 641.92,473.69 658.64,474.35 675.36,475.00 692.08,475.63 708.80,476.24 725.52,477.31 742.24,478.36 758.96,479.40 775.68,480.43 792.40,481.44 809.12,482.45 825.84,483.43 842.56,484.41 859.28,485.38 876.00,486.33 881.00,486.33 881.00,620.00 600.00,562.00 585.00,559.50 541.00,556.25 500.00,553.75 458.00,550.50 374.00,545.00 290.00,521.25 270.00,515.00 207.50,493.75 147.50,472.50 122.50,462.50 88.75,448.00 62.50,431.25 56.25,426.25 40.00,387.00" fill="#fff4f4"/>
</g>
<g stroke="#666" stroke-width="1" shape-rendering="crispEdges"><line x1="123.5" y1="40" x2="123.5" y2="560" /><line x1="207.5" y1="40" x2="207.5" y2="560" /><line x1="290.5" y1="40" x2="290.5" y2="560" /><line x1="374.5" y1="40" x2="374.5" y2="560" /><line x1="458.5" y1="40" x2="458.5" y2="560" /><line x1="541.5" y1="40" x2="541.5" y2="560" /><line x1="625.5" y1="40" x2="625.5" y2="560" /><line x1="708.5" y1="40" x2="708.5" y2="560" /><line x1="792.5" y1="40" x2="792.5" y2="560" /><line x1="876.5" y1="40" x2="876.5" y2="560" /><line x1="40" y1="516.5" x2="881" y2="516.5" /><line x1="40" y1="473.5" x2="881" y2="473.5" /><line x1="40" y1="430.5" x2="881" y2="430.5" /><line x1="40" y1="386.5" x2="881" y2="386.5" /><line x1="40" y1="343.5" x2="881" y2="343.5" /><line x1="40" y1="300.5" x2="881" y2="300.5" /><line x1="40" y1="256.5" x2="881" y2="256.5" /><line x1="40" y1="213.5" x2="881" y2="213.5" /><line x1="40" y1="170.5" x2="881" y2="170.5" /><line x1="40" y1="126.5" x2="881" y2="126.5" /><line x1="40" y1="83.5" x2="881" y2="83.5" /></g>
<g fill="#666" shape-rendering="crispEdges"><rect x="39" y="39" width="843" height="2"/><rect x="39" y="39" width="2" height="523"/><rect x="39" y="560" width="843" height="2"/><rect x="881" y="39" width="1" height="523"/></g>
<g stroke="#666" stroke-width="1" shape-rendering="crispEdges"><line x1="37" y1="560.5" x2="40" y2="560.5"/><line x1="37" y1="516.5" x2="40" y2="516.5"/><line x1="37" y1="473.5" x2="40" y2="473.5"/><line x1="37" y1="430.5" x2="40" y2="430.5"/><line x1="37" y1="386.5" x2="40" y2="386.5"/><line x1="37" y1="343.5" x2="40" y2="343.5"/><line x1="37" y1="300.5" x2="40" y2="300.5"/><line x1="37" y1="256.5" x2="40" y2="256.5"/><line x1="37" y1="213.5" x2="40" y2="213.5"/><line x1="37" y1="170.5" x2="40" y2="170.5"/><line x1="37" y1="126.5" x2="40" y2="126.5"/><line x1="37" y1="83.5" x2="40" y2="83.5"/><line x1="37" y1="40.5" x2="40" y2="40.5"/><line x1="40.5" y1="560" x2="40.5" y2="564"/><line x1="123.5" y1="560" x2="123.5" y2="564"/><line x1="207.5" y1="560" x2="207.5" y2="564"/><line x1="290.5" y1="560" x2="290.5" y2="564"/><line x1="374.5" y1="560" x2="374.5" y2="564"/><line x1="458.5" y1="560" x2="458.5" y2="564"/><line x1="541.5" y1="560" x2="541.5" y2="564"/><line x1="625.5" y1="560" x2="625.5" y2="564"/><line x1="708.5" y1="560" x2="708.5" y2="564"/><line x1="792.5" y1="560" x2="792.5" y2="564"/><line x1="876.5" y1="560" x2="876.5" y2="564"/></g>
<g clip-path="url(#pa)" fill="none" stroke="#000" stroke-width="1" shape-rendering="crispEdges"><polyline points="40.00,387.10 40.84,386.86 41.67,386.74 43.34,386.56 45.02,386.42 48.36,386.19 52.54,385.96 56.72,385.75 65.08,385.40 73.44,385.09 81.80,384.81 90.16,384.56 106.88,384.10 123.60,383.69 140.32,383.31 157.04,382.95 173.76,382.62 190.48,382.30 207.20,382.00 223.92,381.66 240.64,381.33 257.36,381.02 274.08,380.71 290.80,380.41 307.52,380.11 324.24,379.83 340.96,379.54 357.68,379.27 374.40,379.00 391.12,378.91 407.84,378.83 424.56,378.75 441.28,378.68 458.00,378.61 474.72,378.54 491.44,378.47 508.16,378.41 524.88,378.35 541.60,378.29 558.32,378.09 575.04,377.88 591.76,377.68 608.48,377.48 625.20,377.29 641.92,377.09 658.64,376.90 675.36,376.71 692.08,376.52 708.80,376.33 725.52,376.14 742.24,375.96 758.96,375.77 775.68,375.59 792.40,375.41 809.12,375.23 825.84,375.06 842.56,374.88 859.28,374.71 876.00,374.53 881.00,374.53"/><polyline points="40.00,387.10 40.84,386.61 41.67,386.38 43.34,386.03 45.02,385.76 48.36,385.32 52.54,384.87 56.72,384.48 65.08,383.82 73.44,383.26 81.80,382.76 90.16,382.31 106.88,381.49 123.60,380.77 140.32,379.93 157.04,379.14 173.76,378.39 190.48,377.68 207.20,376.99 223.92,376.44 240.64,375.91 257.36,375.39 274.08,374.90 290.80,374.41 307.52,373.95 324.24,373.49 340.96,373.05 357.68,372.61 374.40,372.19 391.12,371.68 407.84,371.19 424.56,370.70 441.28,370.22 458.00,369.75 474.72,369.29 491.44,368.83 508.16,368.37 524.88,367.93 541.60,367.49 558.32,367.13 575.04,366.78 591.76,366.43 608.48,366.09 625.20,365.75 641.92,365.42 658.64,365.09 675.36,364.76 692.08,364.44 708.80,364.12 725.52,363.81 742.24,363.50 758.96,363.19 775.68,362.88 792.40,362.58 809.12,362.28 825.84,361.98 842.56,361.68 859.28,361.39 876.00,361.10 881.00,361.10"/><polyline points="40.00,387.10 40.84,386.39 41.67,386.05 43.34,385.55 45.02,385.15 48.36,384.51 52.54,383.84 56.72,383.27 65.08,382.30 73.44,381.47 81.80,380.73 90.16,380.05 106.88,378.84 123.60,377.75 140.32,376.27 157.04,374.87 173.76,373.53 190.48,372.24 207.20,370.99 223.92,370.23 240.64,369.51 257.36,368.81 274.08,368.14 290.80,367.48 307.52,366.85 324.24,366.24 340.96,365.64 357.68,365.06 374.40,364.49 391.12,363.91 407.84,363.34 424.56,362.79 441.28,362.25 458.00,361.71 474.72,361.19 491.44,360.68 508.16,360.17 524.88,359.67 541.60,359.18 558.32,358.62 575.04,358.06 591.76,357.51 608.48,356.97 625.20,356.43 641.92,355.90 658.64,355.37 675.36,354.85 692.08,354.34 708.80,353.83 725.52,353.32 742.24,352.82 758.96,352.33 775.68,351.83 792.40,351.35 809.12,350.86 825.84,350.38 842.56,349.91 859.28,349.44 876.00,348.97 881.00,348.97"/><polyline points="40.00,387.10 40.84,386.13 41.67,385.66 43.34,384.96 45.02,384.41 48.36,383.50 52.54,382.56 56.72,381.76 65.08,380.37 73.44,379.18 81.80,378.10 90.16,377.12 106.88,375.34 123.60,373.73 140.32,371.98 157.04,370.32 173.76,368.75 190.48,367.24 207.20,365.79 223.92,364.81 240.64,363.88 257.36,362.99 274.08,362.12 290.80,361.29 307.52,360.48 324.24,359.70 340.96,358.94 357.68,358.20 374.40,357.48 391.12,356.53 407.84,355.61 424.56,354.69 441.28,353.80 458.00,352.91 474.72,352.04 491.44,351.18 508.16,350.33 524.88,349.50 541.60,348.67 558.32,347.88 575.04,347.10 591.76,346.32 608.48,345.56 625.20,344.80 641.92,344.05 658.64,343.31 675.36,342.57 692.08,341.84 708.80,341.12 725.52,340.41 742.24,339.70 758.96,339.00 775.68,338.30 792.40,337.61 809.12,336.92 825.84,336.24 842.56,335.57 859.28,334.90 876.00,334.23 881.00,334.23"/><polyline points="40.00,387.10 40.84,385.83 41.67,385.21 43.34,384.30 45.02,383.57 48.36,382.38 52.54,381.16 56.72,380.11 65.08,378.29 73.44,376.73 81.80,375.32 90.16,374.04 106.88,371.71 123.60,369.63 140.32,367.74 157.04,365.99 173.76,364.34 190.48,362.77 207.20,361.28 223.92,359.78 240.64,358.34 257.36,356.94 274.08,355.59 290.80,354.28 307.52,353.00 324.24,351.75 340.96,350.53 357.68,349.34 374.40,348.17 391.12,347.02 407.84,345.89 424.56,344.78 441.28,343.68 458.00,342.61 474.72,341.55 491.44,340.51 508.16,339.48 524.88,338.47 541.60,337.46 558.32,336.32 575.04,335.19 591.76,334.07 608.48,332.97 625.20,331.87 641.92,330.79 658.64,329.71 675.36,328.65 692.08,327.59 708.80,326.54 725.52,325.50 742.24,324.47 758.96,323.44 775.68,322.43 792.40,321.42 809.12,320.41 825.84,319.42 842.56,318.43 859.28,317.44 876.00,316.47 881.00,316.47"/><polyline points="40.00,387.10 40.84,385.53 41.67,384.77 43.34,383.65 45.02,382.77 48.36,381.32 52.54,379.84 56.72,378.57 65.08,376.39 73.44,374.52 81.80,372.84 90.16,371.31 106.88,368.57 123.60,366.11 140.32,363.61 157.04,361.28 173.76,359.08 190.48,356.98 207.20,354.98 223.92,353.10 240.64,351.28 257.36,349.53 274.08,347.82 290.80,346.17 307.52,344.56 324.24,342.98 340.96,341.44 357.68,339.94 374.40,338.46 391.12,336.76 407.84,335.08 424.56,333.43 441.28,331.80 458.00,330.20 474.72,328.61 491.44,327.04 508.16,325.49 524.88,323.96 541.60,322.45 558.32,321.11 575.04,319.78 591.76,318.47 608.48,317.17 625.20,315.88 641.92,314.61 658.64,313.35 675.36,312.10 692.08,310.86 708.80,309.63 725.52,308.41 742.24,307.20 758.96,306.00 775.68,304.81 792.40,303.62 809.12,302.45 825.84,301.28 842.56,300.13 859.28,298.98 876.00,297.83 881.00,297.83"/><polyline points="40.00,387.10 40.84,385.17 41.67,384.23 43.34,382.85 45.02,381.74 48.36,379.94 52.54,378.08 56.72,376.47 65.08,373.71 73.44,371.33 81.80,369.19 90.16,367.23 106.88,363.68 123.60,360.49 140.32,357.56 157.04,354.83 173.76,352.25 190.48,349.81 207.20,347.47 223.92,345.09 240.64,342.79 257.36,340.56 274.08,338.40 290.80,336.29 307.52,334.24 324.24,332.23 340.96,330.27 357.68,328.34 374.40,326.45 391.12,324.30 407.84,322.18 424.56,320.09 441.28,318.03 458.00,316.00 474.72,314.41 491.44,312.83 508.16,311.28 524.88,309.76 541.60,308.24 558.32,306.62 575.04,305.01 591.76,303.42 608.48,301.85 625.20,300.29 641.92,298.75 658.64,297.22 675.36,295.71 692.08,294.21 708.80,292.72 725.52,290.90 742.24,289.08 758.96,287.28 775.68,285.49 792.40,283.71 809.12,282.01 825.84,280.32 842.56,278.64 859.28,276.96 876.00,275.30 881.00,275.30"/><polyline points="40.00,387.10 40.84,384.75 41.67,383.61 43.34,381.91 45.02,380.56 48.36,378.33 52.54,376.04 56.72,374.04 65.08,370.60 73.44,367.61 81.80,364.92 90.16,362.44 106.88,357.93 123.60,353.86 140.32,350.13 157.04,346.63 173.76,343.33 190.48,340.18 207.20,337.17 223.92,334.36 240.64,331.65 257.36,329.03 274.08,326.48 290.80,324.01 307.52,321.59 324.24,319.23 340.96,316.92 357.68,314.66 374.40,312.44 391.12,309.88 407.84,307.36 424.56,304.87 441.28,302.42 458.00,300.00 474.72,297.59 491.44,295.21 508.16,292.86 524.88,290.53 541.60,288.24 558.32,286.65 575.04,285.08 591.76,283.53 608.48,282.00 625.20,280.46 641.92,277.55 658.64,274.65 675.36,271.76 692.08,268.89 708.80,266.03 725.52,264.28 742.24,262.56 758.96,260.85 775.68,259.15 792.40,257.46 809.12,255.63 825.84,253.81 842.56,252.01 859.28,250.22 876.00,248.43 881.00,248.43"/><polyline points="40.00,387.10 40.84,384.19 41.67,382.76 43.34,380.63 45.02,378.92 48.36,376.09 52.54,373.15 56.72,370.58 65.08,366.11 73.44,362.19 81.80,358.64 90.16,355.34 106.88,349.31 123.60,343.83 140.32,339.13 157.04,334.73 173.76,330.56 190.48,326.58 207.20,322.76 223.92,319.29 240.64,315.94 257.36,312.70 274.08,309.55 290.80,306.48 307.52,303.49 324.24,300.56 340.96,297.70 357.68,294.89 374.40,292.12 391.12,288.61 407.84,285.15 424.56,281.73 441.28,278.35 458.00,275.00 474.72,271.41 491.44,267.86 508.16,264.34 524.88,260.84 541.60,257.43 558.32,255.39 575.04,253.38 591.76,251.39 608.48,249.42 625.20,247.47 641.92,244.92 658.64,242.40 675.36,239.89 692.08,237.40 708.80,234.93 725.52,232.50 742.24,230.09 758.96,227.69 775.68,225.31 792.40,222.94 809.12,220.47 825.84,218.02 842.56,215.58 859.28,213.15 876.00,210.73 881.00,210.73"/><polyline points="40.00,387.00 45.00,375.00 56.00,345.00 71.00,325.00 95.00,300.00 142.50,256.75 165.00,242.50 207.50,221.00 225.00,213.00 290.00,178.30 305.80,170.00 374.00,133.30 389.00,126.00 440.00,100.00 473.00,83.00 541.00,47.00 556.00,40.00 881.00,-113.00"/><polyline points="40.00,387.10 40.84,387.33 41.67,387.43 43.34,387.55 45.02,387.64 48.36,387.79 52.54,387.93 56.72,388.04 65.08,388.22 73.44,388.37 81.80,388.50 90.16,388.61 106.88,388.80 123.60,388.96 140.32,389.09 157.04,389.21 173.76,389.32 190.48,389.41 207.20,389.50 223.92,389.66 240.64,389.81 257.36,389.95 274.08,390.09 290.80,390.22 307.52,390.35 324.24,390.48 340.96,390.60 357.68,390.72 374.40,390.84 391.12,390.95 407.84,391.07 424.56,391.17 441.28,391.28 458.00,391.39 474.72,391.49 491.44,391.59 508.16,391.69 524.88,391.79 541.60,391.89 558.32,391.98 575.04,392.08 591.76,392.17 608.48,392.26 625.20,392.35 641.92,392.44 658.64,392.53 675.36,392.62 692.08,392.71 708.80,392.79 725.52,392.88 742.24,392.96 758.96,393.04 775.68,393.12 792.40,393.20 809.12,393.29 825.84,393.37 842.56,393.44 859.28,393.52 876.00,393.60 881.00,393.60"/><polyline points="40.00,387.10 40.84,387.66 41.67,387.88 43.34,388.18 45.02,388.42 48.36,388.78 52.54,389.14 56.72,389.43 65.08,389.93 73.44,390.34 81.80,390.70 90.16,391.02 106.88,391.58 123.60,392.08 140.32,392.52 157.04,392.92 173.76,393.29 190.48,393.63 207.20,393.96 223.92,394.27 240.64,394.56 257.36,394.83 274.08,395.10 290.80,395.36 307.52,395.60 324.24,395.84 340.96,396.07 357.68,396.29 374.40,396.51 391.12,396.83 407.84,397.15 424.56,397.46 441.28,397.76 458.00,398.06 474.72,398.36 491.44,398.65 508.16,398.94 524.88,399.23 541.60,399.51 558.32,399.67 575.04,399.83 591.76,399.98 608.48,400.13 625.20,400.28 641.92,400.43 658.64,400.58 675.36,400.72 692.08,400.86 708.80,401.00 725.52,401.13 742.24,401.27 758.96,401.40 775.68,401.53 792.40,401.65 809.12,401.78 825.84,401.90 842.56,402.03 859.28,402.15 876.00,402.27 881.00,402.27"/><polyline points="40.00,387.10 40.84,387.94 41.67,388.29 43.34,388.78 45.02,389.16 48.36,389.78 52.54,390.41 56.72,390.95 65.08,391.89 73.44,392.71 81.80,393.45 90.16,394.13 106.88,395.39 123.60,396.51 140.32,396.80 157.04,397.04 173.76,397.23 190.48,397.38 207.20,397.51 223.92,398.08 240.64,398.64 257.36,399.17 274.08,399.69 290.80,400.19 307.52,400.68 324.24,401.15 340.96,401.62 357.68,402.07 374.40,402.51 391.12,402.84 407.84,403.16 424.56,403.48 441.28,403.79 458.00,404.09 474.72,404.39 491.44,404.68 508.16,404.96 524.88,405.24 541.60,405.51 558.32,405.73 575.04,405.94 591.76,406.15 608.48,406.36 625.20,406.56 641.92,406.76 658.64,406.95 675.36,407.14 692.08,407.33 708.80,407.52 725.52,407.70 742.24,407.87 758.96,408.05 775.68,408.22 792.40,408.39 809.12,408.56 825.84,408.72 842.56,408.88 859.28,409.04 876.00,409.20 881.00,409.20"/><polyline points="40.00,387.10 40.84,388.25 41.67,388.71 43.34,389.37 45.02,389.88 48.36,390.70 52.54,391.54 56.72,392.25 65.08,393.48 73.44,394.54 81.80,395.50 90.16,396.38 106.88,397.99 123.60,399.43 140.32,400.17 157.04,400.84 173.76,401.44 190.48,401.99 207.20,402.51 223.92,403.11 240.64,403.69 257.36,404.23 274.08,404.76 290.80,405.26 307.52,405.74 324.24,406.21 340.96,406.65 357.68,407.09 374.40,407.51 391.12,408.03 407.84,408.53 424.56,409.02 441.28,409.50 458.00,409.98 474.72,410.44 491.44,410.89 508.16,411.34 524.88,411.78 541.60,412.21 558.32,412.50 575.04,412.78 591.76,413.05 608.48,413.32 625.20,413.58 641.92,413.84 658.64,414.10 675.36,414.34 692.08,414.59 708.80,414.83 725.52,415.06 742.24,415.29 758.96,415.52 775.68,415.74 792.40,415.96 809.12,416.17 825.84,416.38 842.56,416.59 859.28,416.80 876.00,417.00 881.00,417.00"/><polyline points="40.00,387.10 40.84,388.62 41.67,389.22 43.34,390.08 45.02,390.74 48.36,391.79 52.54,392.84 56.72,393.73 65.08,395.25 73.44,396.54 81.80,397.70 90.16,398.75 106.88,400.65 123.60,402.34 140.32,403.49 157.04,404.53 173.76,405.48 190.48,406.38 207.20,407.21 223.92,408.03 240.64,408.81 257.36,409.55 274.08,410.26 290.80,410.94 307.52,411.60 324.24,412.23 340.96,412.85 357.68,413.44 374.40,414.01 391.12,414.49 407.84,414.95 424.56,415.40 441.28,415.84 458.00,416.26 474.72,416.67 491.44,417.07 508.16,417.46 524.88,417.84 541.60,418.22 558.32,418.70 575.04,419.17 591.76,419.63 608.48,420.08 625.20,420.53 641.92,420.97 658.64,421.41 675.36,421.83 692.08,422.25 708.80,422.67 725.52,423.08 742.24,423.48 758.96,423.88 775.68,424.27 792.40,424.66 809.12,425.04 825.84,425.42 842.56,425.80 859.28,426.17 876.00,426.53 881.00,426.53"/><polyline points="40.00,387.10 40.84,389.03 41.67,389.80 43.34,390.87 45.02,391.69 48.36,392.98 52.54,394.27 56.72,395.36 65.08,397.18 73.44,398.72 81.80,400.08 90.16,401.32 106.88,403.52 123.60,405.46 140.32,406.99 157.04,408.38 173.76,409.67 190.48,410.88 207.20,412.01 223.92,413.01 240.64,413.96 257.36,414.86 274.08,415.72 290.80,416.54 307.52,417.33 324.24,418.09 340.96,418.82 357.68,419.53 374.40,420.22 391.12,420.89 407.84,421.55 424.56,422.18 441.28,422.80 458.00,423.41 474.72,424.00 491.44,424.57 508.16,425.13 524.88,425.68 541.60,426.22 558.32,426.84 575.04,427.44 591.76,428.04 608.48,428.62 625.20,429.20 641.92,429.77 658.64,430.32 675.36,430.87 692.08,431.42 708.80,431.95 725.52,432.48 742.24,433.00 758.96,433.51 775.68,434.02 792.40,434.52 809.12,435.01 825.84,435.50 842.56,435.98 859.28,436.46 876.00,436.93 881.00,436.93"/><polyline points="40.00,387.10 40.84,389.53 41.67,390.49 43.34,391.83 45.02,392.85 48.36,394.46 52.54,396.05 56.72,397.39 65.08,399.62 73.44,401.49 81.80,403.14 90.16,404.62 106.88,407.26 123.60,409.57 140.32,411.44 157.04,413.13 173.76,414.69 190.48,416.15 207.20,417.52 223.92,418.81 240.64,420.04 257.36,421.21 274.08,422.33 290.80,423.40 307.52,424.44 324.24,425.43 340.96,426.39 357.68,427.32 374.40,428.22 391.12,429.15 407.84,430.05 424.56,430.92 441.28,431.78 458.00,432.61 474.72,433.43 491.44,434.23 508.16,435.01 524.88,435.78 541.60,436.53 558.32,437.25 575.04,437.97 591.76,438.67 608.48,439.36 625.20,440.04 641.92,440.70 658.64,441.36 675.36,442.01 692.08,442.64 708.80,443.27 725.52,443.88 742.24,444.49 758.96,445.09 775.68,445.68 792.40,446.26 809.12,446.84 825.84,447.41 842.56,447.97 859.28,448.52 876.00,449.07 881.00,449.07"/><polyline points="40.00,387.10 40.84,390.25 41.67,391.49 43.34,393.22 45.02,394.53 48.36,396.58 52.54,398.60 56.72,400.29 65.08,403.10 73.44,405.44 81.80,407.49 90.16,409.33 106.88,412.57 123.60,415.39 140.32,417.77 157.04,419.94 173.76,421.93 190.48,423.78 207.20,425.52 223.92,427.21 240.64,428.82 257.36,430.35 274.08,431.81 290.80,433.22 307.52,434.57 324.24,435.87 340.96,437.13 357.68,438.35 374.40,439.52 391.12,440.55 407.84,441.54 424.56,442.50 441.28,443.43 458.00,444.34 474.72,445.22 491.44,446.08 508.16,446.91 524.88,447.73 541.60,448.54 558.32,449.54 575.04,450.52 591.76,451.49 608.48,452.44 625.20,453.38 641.92,454.30 658.64,455.21 675.36,456.11 692.08,456.99 708.80,457.86 725.52,458.72 742.24,459.56 758.96,460.40 775.68,461.22 792.40,462.04 809.12,462.84 825.84,463.64 842.56,464.42 859.28,465.20 876.00,465.97 881.00,465.97"/><polyline points="40.00,387.10 40.84,391.18 41.67,392.78 43.34,395.00 45.02,396.68 48.36,399.31 52.54,401.90 56.72,404.05 65.08,407.62 73.44,410.59 81.80,413.18 90.16,415.50 106.88,419.57 123.60,423.12 140.32,426.26 157.04,429.12 173.76,431.76 190.48,434.22 207.20,436.53 223.92,438.79 240.64,440.95 257.36,443.00 274.08,444.98 290.80,446.89 307.52,448.73 324.24,450.52 340.96,452.24 357.68,453.91 374.40,455.53 391.12,456.70 407.84,457.83 424.56,458.92 441.28,459.98 458.00,461.00 474.72,462.16 491.44,463.30 508.16,464.40 524.88,465.48 541.60,466.55 558.32,467.88 575.04,469.20 591.76,470.49 608.48,471.76 625.20,473.01 641.92,473.69 658.64,474.35 675.36,475.00 692.08,475.63 708.80,476.24 725.52,477.31 742.24,478.36 758.96,479.40 775.68,480.43 792.40,481.44 809.12,482.45 825.84,483.43 842.56,484.41 859.28,485.38 876.00,486.33 881.00,486.33"/><polyline points="40.00,387.00 56.25,426.25 62.50,431.25 88.75,448.00 122.50,462.50 147.50,472.50 207.50,493.75 270.00,515.00 290.00,521.25 374.00,545.00 458.00,550.50 500.00,553.75 541.00,556.25 585.00,559.50 600.00,562.00 881.00,620.00"/><line x1="40" y1="387.5" x2="881" y2="387.5" stroke-width="1.5"/></g>
<g clip-path="url(#pa)" fill="none" shape-rendering="crispEdges"><polyline points="40.00,385.50 43.50,389.50 81.00,389.50 83.00,391.50 881.00,391.50" stroke="#00ffcc" stroke-width="1"/><polyline points="40.00,386.50 43.50,390.50 81.00,390.50 83.00,392.50 881.00,392.50" stroke="#00ffcc" stroke-width="1"/><polyline points="40.00,387.50 43.50,391.50 81.00,391.50 83.00,393.50 881.00,393.50" stroke="#00ffcc" stroke-width="1"/><polyline points="40.00,384.50 43.50,388.50 81.00,388.50 83.00,390.50 881.00,390.50" stroke="#000" stroke-width="1"/><polyline points="40.00,388.50 43.50,392.50 81.00,392.50 83.00,394.50 881.00,394.50" stroke="#000" stroke-width="1"/></g>
<g clip-path="url(#pa)" fill="none" shape-rendering="crispEdges"><polyline points="40.00,383.50 44.50,383.50 49.50,367.50 108.00,367.50 113.00,334.50 161.50,334.50 162.50,316.50 606.00,316.50 608.00,309.50 625.00,309.50 630.00,294.50 635.00,294.50 652.00,276.50 659.00,276.50 665.00,257.50 670.00,185.00 673.50,182.50 866.50,182.50 870.25,178.50 875.50,157.50 877.00,156.50 881.00,156.50" stroke="#fff" stroke-opacity="0.45" stroke-width="1"/><polyline points="40.00,389.50 44.50,389.50 49.50,373.50 108.00,373.50 113.00,340.50 161.50,340.50 162.50,322.50 606.00,322.50 608.00,315.50 625.00,315.50 630.00,300.50 635.00,300.50 652.00,282.50 659.00,282.50 665.00,263.50 670.00,191.00 673.50,188.50 866.50,188.50 870.25,184.50 875.50,163.50 877.00,162.50 881.00,162.50" stroke="#fff" stroke-opacity="0.45" stroke-width="1"/><polyline points="40.00,385.50 44.50,385.50 49.50,369.50 108.00,369.50 113.00,336.50 161.50,336.50 162.50,318.50 606.00,318.50 608.00,311.50 625.00,311.50 630.00,296.50 635.00,296.50 652.00,278.50 659.00,278.50 665.00,259.50 670.00,187.00 673.50,184.50 866.50,184.50 870.25,180.50 875.50,159.50 877.00,158.50 881.00,158.50" stroke="#ffcc00" stroke-width="1"/><polyline points="40.00,386.50 44.50,386.50 49.50,370.50 108.00,370.50 113.00,337.50 161.50,337.50 162.50,319.50 606.00,319.50 608.00,312.50 625.00,312.50 630.00,297.50 635.00,297.50 652.00,279.50 659.00,279.50 665.00,260.50 670.00,188.00 673.50,185.50 866.50,185.50 870.25,181.50 875.50,160.50 877.00,159.50 881.00,159.50" stroke="#ffcc00" stroke-width="1"/><polyline points="40.00,387.50 44.50,387.50 49.50,371.50 108.00,371.50 113.00,338.50 161.50,338.50 162.50,320.50 606.00,320.50 608.00,313.50 625.00,313.50 630.00,298.50 635.00,298.50 652.00,280.50 659.00,280.50 665.00,261.50 670.00,189.00 673.50,186.50 866.50,186.50 870.25,182.50 875.50,161.50 877.00,160.50 881.00,160.50" stroke="#ffcc00" stroke-width="1"/><polyline points="40.00,384.50 44.50,384.50 49.50,368.50 108.00,368.50 113.00,335.50 161.50,335.50 162.50,317.50 606.00,317.50 608.00,310.50 625.00,310.50 630.00,295.50 635.00,295.50 652.00,277.50 659.00,277.50 665.00,258.50 670.00,186.00 673.50,183.50 866.50,183.50 870.25,179.50 875.50,158.50 877.00,157.50 881.00,157.50" stroke="#000" stroke-width="1"/><polyline points="40.00,388.50 44.50,388.50 49.50,372.50 108.00,372.50 113.00,339.50 161.50,339.50 162.50,321.50 606.00,321.50 608.00,314.50 625.00,314.50 630.00,299.50 635.00,299.50 652.00,281.50 659.00,281.50 665.00,262.50 670.00,190.00 673.50,187.50 866.50,187.50 870.25,183.50 875.50,162.50 877.00,161.50 881.00,161.50" stroke="#000" stroke-width="1"/></g>
<g font-family="Liberation Mono"><text x="392.00" y="15.00" font-size="15px" font-weight="normal" fill="#000" text-anchor="start" textLength="136" lengthAdjust="spacingAndGlyphs" stroke="#000" stroke-width="0.45">Eastern Co - 2006</text><text x="285.00" y="25.60" font-size="12px" font-weight="bold" fill="#000" text-anchor="start" textLength="350" lengthAdjust="spacingAndGlyphs" xml:space="preserve" stroke="#000" stroke-width="0.4">Predicted High to Date (blue) &amp;  Low to Date (red)</text><text x="307.00" y="37.00" font-size="11.7px" font-weight="normal" fill="#000" text-anchor="start" textLength="306" lengthAdjust="spacingAndGlyphs" stroke="#000" stroke-width="0.2">vol:0.99% iter:2000 step:10 hurst:0.57 drift:0.07/0</text><text transform="translate(35.2,561.5) rotate(-90)" x="-3.0" y="0" font-size="12.5px" fill="#000" textLength="6" lengthAdjust="spacingAndGlyphs">6</text><text transform="translate(35.2,517.5) rotate(-90)" x="-3.0" y="0" font-size="12.5px" fill="#000" textLength="6" lengthAdjust="spacingAndGlyphs">7</text><text transform="translate(35.2,474.5) rotate(-90)" x="-3.0" y="0" font-size="12.5px" fill="#000" textLength="6" lengthAdjust="spacingAndGlyphs">8</text><text transform="translate(35.2,431.5) rotate(-90)" x="-3.0" y="0" font-size="12.5px" fill="#000" textLength="6" lengthAdjust="spacingAndGlyphs">9</text><text transform="translate(35.2,344.5) rotate(-90)" x="-6.0" y="0" font-size="12.5px" fill="#000" textLength="12" lengthAdjust="spacingAndGlyphs">11</text><text transform="translate(35.2,301.5) rotate(-90)" x="-6.0" y="0" font-size="12.5px" fill="#000" textLength="12" lengthAdjust="spacingAndGlyphs">12</text><text transform="translate(35.2,257.5) rotate(-90)" x="-6.0" y="0" font-size="12.5px" fill="#000" textLength="12" lengthAdjust="spacingAndGlyphs">13</text><text transform="translate(35.2,214.5) rotate(-90)" x="-6.0" y="0" font-size="12.5px" fill="#000" textLength="12" lengthAdjust="spacingAndGlyphs">14</text><text transform="translate(35.2,171.5) rotate(-90)" x="-6.0" y="0" font-size="12.5px" fill="#000" textLength="12" lengthAdjust="spacingAndGlyphs">15</text><text transform="translate(35.2,127.5) rotate(-90)" x="-6.0" y="0" font-size="12.5px" fill="#000" textLength="12" lengthAdjust="spacingAndGlyphs">16</text><text transform="translate(35.2,84.5) rotate(-90)" x="-6.0" y="0" font-size="12.5px" fill="#000" textLength="12" lengthAdjust="spacingAndGlyphs">17</text><text transform="translate(35.2,41.5) rotate(-90)" x="-6.0" y="0" font-size="12.5px" fill="#000" textLength="12" lengthAdjust="spacingAndGlyphs">18</text><text x="36.70" y="572.00" font-size="11.7px" font-weight="normal" fill="#000" text-anchor="start" textLength="6" lengthAdjust="spacingAndGlyphs" >0</text><text x="119.70" y="572.00" font-size="11.7px" font-weight="normal" fill="#000" text-anchor="start" textLength="6" lengthAdjust="spacingAndGlyphs" >5</text><text x="200.70" y="572.00" font-size="11.7px" font-weight="normal" fill="#000" text-anchor="start" textLength="12" lengthAdjust="spacingAndGlyphs" >10</text><text x="283.70" y="572.00" font-size="11.7px" font-weight="normal" fill="#000" text-anchor="start" textLength="12" lengthAdjust="spacingAndGlyphs" >15</text><text x="367.70" y="572.00" font-size="11.7px" font-weight="normal" fill="#000" text-anchor="start" textLength="12" lengthAdjust="spacingAndGlyphs" >20</text><text x="451.70" y="572.00" font-size="11.7px" font-weight="normal" fill="#000" text-anchor="start" textLength="12" lengthAdjust="spacingAndGlyphs" >25</text><text x="534.70" y="572.00" font-size="11.7px" font-weight="normal" fill="#000" text-anchor="start" textLength="12" lengthAdjust="spacingAndGlyphs" >30</text><text x="618.70" y="572.00" font-size="11.7px" font-weight="normal" fill="#000" text-anchor="start" textLength="12" lengthAdjust="spacingAndGlyphs" >35</text><text x="701.70" y="572.00" font-size="11.7px" font-weight="normal" fill="#000" text-anchor="start" textLength="12" lengthAdjust="spacingAndGlyphs" >40</text><text x="785.70" y="572.00" font-size="11.7px" font-weight="normal" fill="#000" text-anchor="start" textLength="12" lengthAdjust="spacingAndGlyphs" >45</text><text x="869.70" y="572.00" font-size="11.7px" font-weight="normal" fill="#000" text-anchor="start" textLength="12" lengthAdjust="spacingAndGlyphs" >50</text><text transform="translate(13.1,301) rotate(-90)" x="-31.5" y="0" font-size="12.3px" stroke="#000" stroke-width="0.3" font-weight="bold" fill="#000" textLength="63" lengthAdjust="spacingAndGlyphs">Price ($)</text><text x="446.00" y="585.00" font-size="12.3px" font-weight="bold" fill="#000" text-anchor="start" textLength="28" lengthAdjust="spacingAndGlyphs" stroke="#000" stroke-width="0.35">Week</text><text x="57.00" y="546.00" font-size="12px" font-weight="bold" fill="#000080" text-anchor="start" textLength="105" lengthAdjust="spacingAndGlyphs" >www.textbiz.org</text><circle cx="48.5" cy="540.5" r="5.9" fill="none" stroke="#000080" stroke-width="1.3"/><path d="M50.4,538.3 A2.9,2.9 0 1 0 50.4,542.7" fill="none" stroke="#000080" stroke-width="1.6"/><text x="42.00" y="557.00" font-size="12px" font-weight="bold" fill="#000080" text-anchor="start" textLength="217" lengthAdjust="spacingAndGlyphs" >The Research Foundation of SUNY</text><text x="282.00" y="598.00" font-size="12.3px" font-weight="normal" fill="#000" text-anchor="start" textLength="18" lengthAdjust="spacingAndGlyphs" >LTD</text><rect x="302" y="592" width="13" height="5" fill="#000"/><rect x="302" y="593" width="13" height="3" fill="#00ffcc"/><text x="318.00" y="598.00" font-size="12.3px" font-weight="normal" fill="#000" text-anchor="start" textLength="18" lengthAdjust="spacingAndGlyphs" >HTD</text><rect x="338" y="593" width="13" height="5" fill="#000"/><rect x="338" y="594" width="13" height="3" fill="#ffcc00"/><text x="354.00" y="598.00" font-size="12.3px" font-weight="normal" fill="#000" text-anchor="start" textLength="48" lengthAdjust="spacingAndGlyphs" >prob:0%&lt;</text><rect x="404" y="587" width="16" height="6" fill="#fff4f4"/><rect x="404" y="593" width="16" height="6" fill="#f4f4ff"/><rect x="452" y="587" width="16" height="6" fill="#ffdcdc"/><rect x="452" y="593" width="16" height="6" fill="#dcdcff"/><rect x="500" y="587" width="16" height="6" fill="#ffbcbc"/><rect x="500" y="593" width="16" height="6" fill="#bcbcff"/><rect x="548" y="587" width="16" height="6" fill="#ff9c9c"/><rect x="548" y="593" width="16" height="6" fill="#9c9cff"/><rect x="596" y="587" width="16" height="6" fill="#ff7c7c"/><rect x="596" y="593" width="16" height="6" fill="#7c7cff"/><text x="421.00" y="598.00" font-size="12.3px" font-weight="normal" fill="#000" text-anchor="start" textLength="30" lengthAdjust="spacingAndGlyphs" >&lt;10%&lt;</text><text x="469.00" y="598.00" font-size="12.3px" font-weight="normal" fill="#000" text-anchor="start" textLength="30" lengthAdjust="spacingAndGlyphs" >&lt;20%&lt;</text><text x="517.00" y="598.00" font-size="12.3px" font-weight="normal" fill="#000" text-anchor="start" textLength="30" lengthAdjust="spacingAndGlyphs" >&lt;30%&lt;</text><text x="565.00" y="598.00" font-size="12.3px" font-weight="normal" fill="#000" text-anchor="start" textLength="30" lengthAdjust="spacingAndGlyphs" >&lt;40%&lt;</text><text x="613.00" y="598.00" font-size="12.3px" font-weight="normal" fill="#000" text-anchor="start" textLength="24" lengthAdjust="spacingAndGlyphs" >&lt;50%</text><text x="884.00" y="375.00" font-size="8.8px" font-weight="bold" fill="#000" text-anchor="start" textLength="24" lengthAdjust="spacingAndGlyphs" stroke="#000" stroke-width="0.5">10.28</text><text x="884.00" y="362.00" font-size="8.8px" font-weight="bold" fill="#000" text-anchor="start" textLength="24" lengthAdjust="spacingAndGlyphs" stroke="#000" stroke-width="0.5">10.59</text><text x="884.00" y="349.00" font-size="8.8px" font-weight="bold" fill="#000" text-anchor="start" textLength="24" lengthAdjust="spacingAndGlyphs" stroke="#000" stroke-width="0.5">10.87</text><text x="884.00" y="335.00" font-size="8.8px" font-weight="bold" fill="#000" text-anchor="start" textLength="24" lengthAdjust="spacingAndGlyphs" stroke="#000" stroke-width="0.5">11.21</text><text x="884.00" y="317.00" font-size="8.8px" font-weight="bold" fill="#000" text-anchor="start" textLength="24" lengthAdjust="spacingAndGlyphs" stroke="#000" stroke-width="0.5">11.62</text><text x="884.00" y="298.00" font-size="8.8px" font-weight="bold" fill="#000" text-anchor="start" textLength="24" lengthAdjust="spacingAndGlyphs" stroke="#000" stroke-width="0.5">12.05</text><text x="884.00" y="276.00" font-size="8.8px" font-weight="bold" fill="#000" text-anchor="start" textLength="24" lengthAdjust="spacingAndGlyphs" stroke="#000" stroke-width="0.5">12.57</text><text x="884.00" y="249.00" font-size="8.8px" font-weight="bold" fill="#000" text-anchor="start" textLength="24" lengthAdjust="spacingAndGlyphs" stroke="#000" stroke-width="0.5">13.19</text><text x="884.00" y="211.00" font-size="8.8px" font-weight="bold" fill="#000" text-anchor="start" textLength="24" lengthAdjust="spacingAndGlyphs" stroke="#000" stroke-width="0.5">14.06</text><text x="884.00" y="394.00" font-size="8.8px" font-weight="bold" fill="#000" text-anchor="start" textLength="24" lengthAdjust="spacingAndGlyphs" stroke="#000" stroke-width="0.5">9.84</text><text x="884.00" y="403.00" font-size="8.8px" font-weight="bold" fill="#000" text-anchor="start" textLength="24" lengthAdjust="spacingAndGlyphs" stroke="#000" stroke-width="0.5">9.64</text><text x="884.00" y="410.00" font-size="8.8px" font-weight="bold" fill="#000" text-anchor="start" textLength="24" lengthAdjust="spacingAndGlyphs" stroke="#000" stroke-width="0.5">9.48</text><text x="884.00" y="417.00" font-size="8.8px" font-weight="bold" fill="#000" text-anchor="start" textLength="24" lengthAdjust="spacingAndGlyphs" stroke="#000" stroke-width="0.5">9.30</text><text x="884.00" y="427.00" font-size="8.8px" font-weight="bold" fill="#000" text-anchor="start" textLength="24" lengthAdjust="spacingAndGlyphs" stroke="#000" stroke-width="0.5">9.08</text><text x="884.00" y="437.00" font-size="8.8px" font-weight="bold" fill="#000" text-anchor="start" textLength="24" lengthAdjust="spacingAndGlyphs" stroke="#000" stroke-width="0.5">8.84</text><text x="884.00" y="450.00" font-size="8.8px" font-weight="bold" fill="#000" text-anchor="start" textLength="24" lengthAdjust="spacingAndGlyphs" stroke="#000" stroke-width="0.5">8.56</text><text x="884.00" y="466.00" font-size="8.8px" font-weight="bold" fill="#000" text-anchor="start" textLength="24" lengthAdjust="spacingAndGlyphs" stroke="#000" stroke-width="0.5">8.17</text><text x="884.00" y="487.00" font-size="8.8px" font-weight="bold" fill="#000" text-anchor="start" textLength="24" lengthAdjust="spacingAndGlyphs" stroke="#000" stroke-width="0.5">7.70</text><text transform="translate(918.5,160) rotate(-90)" x="-21" y="0" font-size="12.5px" fill="#a86c00" stroke="#a86c00" stroke-width="0.35" textLength="42" lengthAdjust="spacingAndGlyphs">15.2487</text><text transform="translate(918.5,393) rotate(-90)" x="-21" y="0" font-size="12.5px" fill="#009955" stroke="#009955" stroke-width="0.35" textLength="42" lengthAdjust="spacingAndGlyphs">9.85542</text><rect x="19" y="374" width="16" height="27" fill="#eeffee"/><text transform="translate(30.3,388) rotate(-90)" x="-12" y="0" font-size="11.7px" font-weight="bold" fill="#000" textLength="24" lengthAdjust="spacingAndGlyphs">9.99</text></g>
</svg>
</body></html>
